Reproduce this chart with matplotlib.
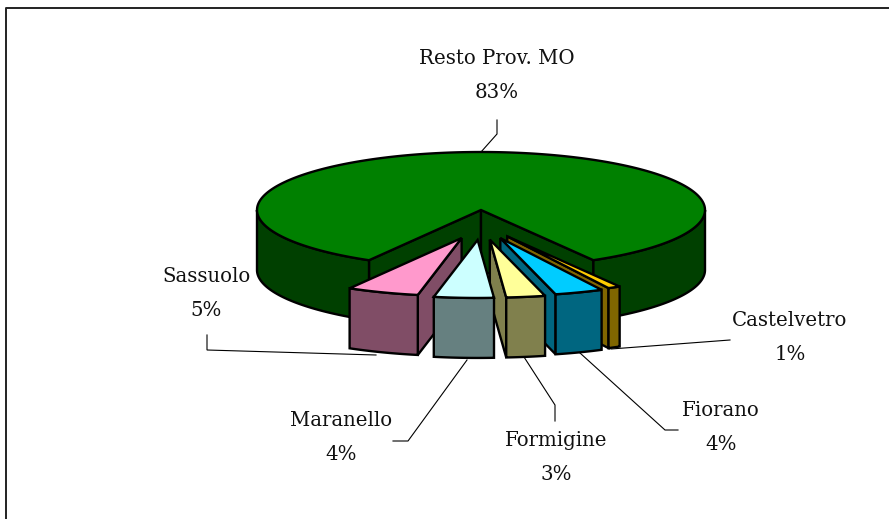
import numpy as np
import matplotlib
matplotlib.use("Agg")
import matplotlib.pyplot as plt
from matplotlib.colors import to_rgb
from matplotlib.patches import Polygon

# Data, in drawing order around the pie, starting from the left edge of the gap
noms = ["Sassuolo", "Maranello", "Formigine", "Fiorano", "Castelvetro", "Resto Prov. MO"]
parts = [5.2, 4.3, 2.8, 3.5, 0.9, 83.3]
etiquettes = ["5%", "4%", "3%", "4%", "1%", "83%"]
couleurs = ["#FF99CC", "#CCFFFF", "#FFFF99", "#00CCFF", "#FFCC00", "#008000"]
ecartes = [True, True, True, True, True, False]

# Geometry of the pie, in pixels
CX, CY = 481, 210
RX, RY = 224, 58
PROF = 60
EXPLODE_X, EXPLODE_Y = 55, 30
DEPART = -30

# Label centre (x, name y, percent y) and leader line for each slice
pos_texte = {
    "Sassuolo": (206, 277, 311),
    "Maranello": (341, 421, 455),
    "Formigine": (556, 441, 474),
    "Fiorano": (721, 410, 444),
    "Castelvetro": (790, 321, 354),
    "Resto Prov. MO": (497, 58, 92),
}
leaders = {
    "Sassuolo": [(207, 335), (207, 350), (376, 355)],
    "Maranello": [(393, 441), (408, 441), (467, 360)],
    "Formigine": [(555, 421), (555, 405), (524, 357)],
    "Fiorano": [(678, 430), (665, 430), (580, 353)],
    "Castelvetro": [(730, 340), (611, 349)],
    "Resto Prov. MO": [(497, 120), (497, 134), (481, 152)],
}

fig = plt.figure(figsize=(8.89, 5.19), dpi=100)
ax = fig.add_axes([0, 0, 1, 1])
ax.set_xlim(0, 889)
ax.set_ylim(519, 0)
ax.axis("off")

# Frame of the chart area: only the top and left sides are in the picture
ax.plot([5.5, 5.5, 889], [519, 7.5, 7.5], color="#222222", lw=1.4)


def point(cx, cy, phi):
    # phi in degrees, measured from the bottom of the ellipse
    a = np.radians(phi)
    return cx + RX * np.sin(a), cy + RY * np.cos(a)


def poly(pts, fc):
    ax.add_patch(Polygon(pts, closed=True, fc=fc, ec="black", lw=1.7, joinstyle="miter"))


def dessine_part(cx, cy, phi0, phi1, coul):
    sombre = tuple(c * 0.5 for c in to_rgb(coul))
    # Radial walls: visible only when they face the viewer
    if np.sin(np.radians(phi1)) < 0 and np.cos(np.radians(phi1)) > 0:
        x, y = point(cx, cy, phi1)
        poly([(cx, cy), (x, y), (x, y + PROF), (cx, cy + PROF)], sombre)
    if np.sin(np.radians(phi0)) > 0 and np.cos(np.radians(phi0)) > 0:
        x, y = point(cx, cy, phi0)
        poly([(cx, cy), (x, y), (x, y + PROF), (cx, cy + PROF)], sombre)
    # Outer wall, front half of the ellipse only
    for lo, hi in [(-90, 90), (270, 450)]:
        a, b = max(phi0, lo), min(phi1, hi)
        if a < b:
            t = np.linspace(a, b, 80)
            xs, ys = point(cx, cy, t)
            haut = np.column_stack([xs, ys])
            bas = np.column_stack([xs, ys + PROF])[::-1]
            poly(np.vstack([haut, bas]), sombre)
    # Top face
    t = np.linspace(phi0, phi1, 300)
    xs, ys = point(cx, cy, t)
    poly(np.vstack([[(cx, cy)], np.column_stack([xs, ys])]), coul)


# Slice angles
bornes = DEPART + np.concatenate([[0], np.cumsum(parts) * 3.6])
tranches = {}
for i, nom in enumerate(noms):
    phi0, phi1 = bornes[i], bornes[i + 1]
    milieu = np.radians((phi0 + phi1) / 2)
    if ecartes[i]:
        cx = CX + EXPLODE_X * np.sin(milieu)
        cy = CY + EXPLODE_Y * np.cos(milieu)
    else:
        cx, cy = CX, CY
    tranches[nom] = (cx, cy, phi0, phi1, couleurs[i])

# Back to front
for nom in ["Resto Prov. MO", "Castelvetro", "Fiorano", "Formigine", "Sassuolo", "Maranello"]:
    dessine_part(*tranches[nom])

# Leader lines and labels
for i, nom in enumerate(noms):
    xs, ys = zip(*leaders[nom])
    ax.plot(xs, ys, color="black", lw=0.8, solid_joinstyle="miter")
    x, y_nom, y_pct = pos_texte[nom]
    ax.text(x, y_nom, nom, ha="center", va="center", family="DejaVu Serif",
            fontsize=14.2, color="#111111")
    ax.text(x, y_pct, etiquettes[i], ha="center", va="center", family="DejaVu Serif",
            fontsize=14.2, color="#111111")

fig.savefig("out.png", dpi=100)
